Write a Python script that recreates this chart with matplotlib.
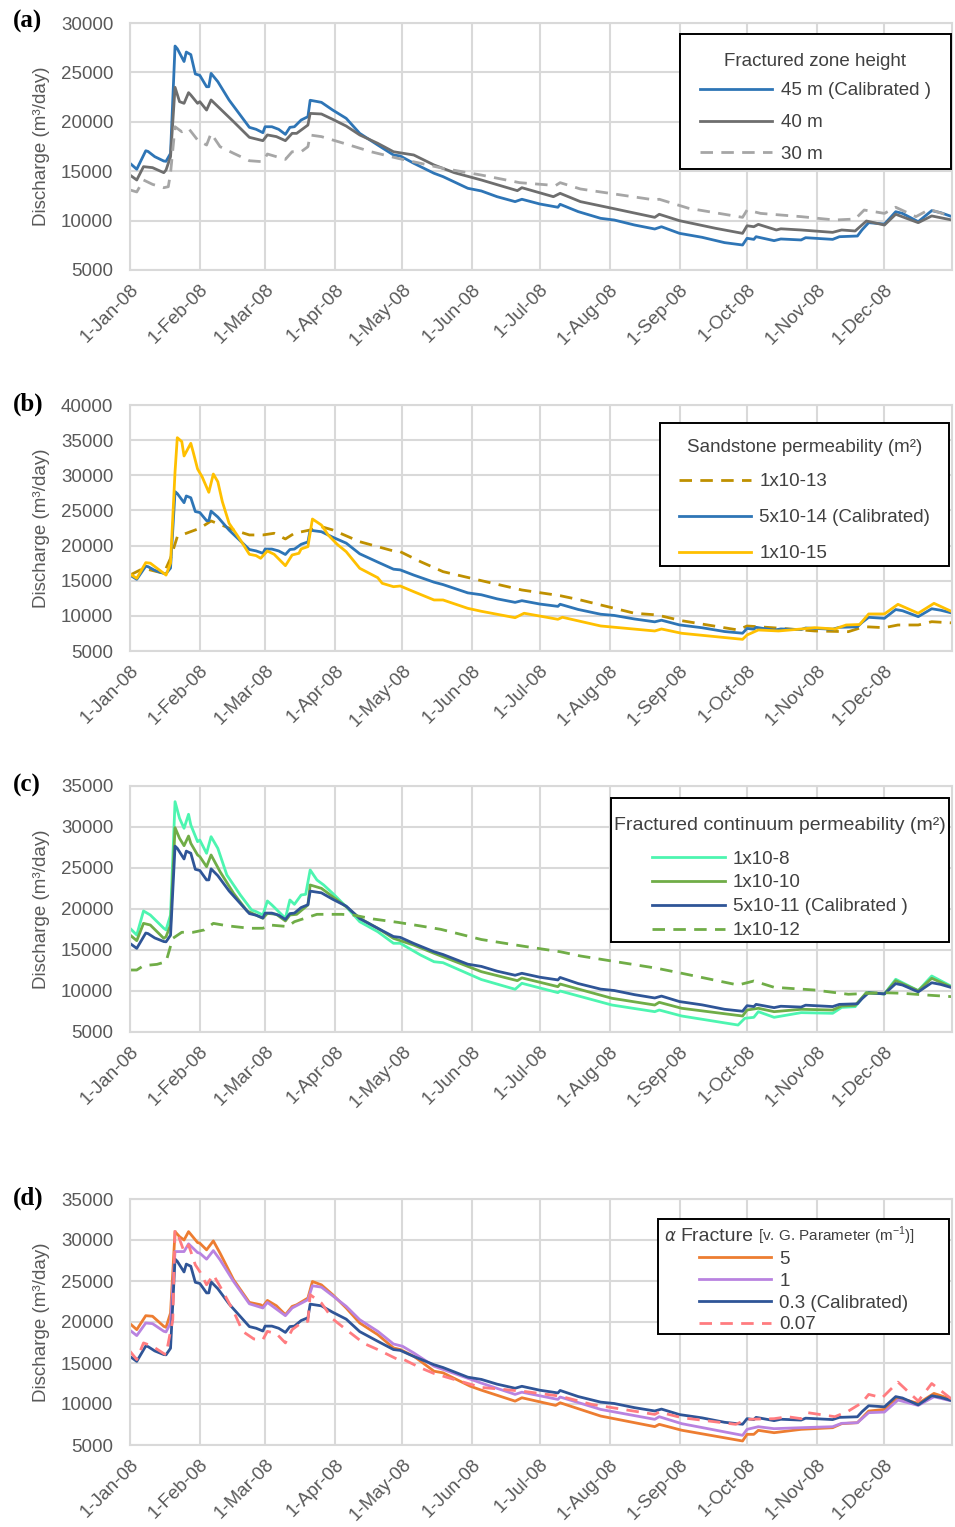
import numpy as np
import matplotlib
matplotlib.use("Agg")
import matplotlib.pyplot as plt
import matplotlib.dates as mdates
from matplotlib.ticker import FuncFormatter, MultipleLocator
from matplotlib.offsetbox import DrawingArea, HPacker, TextArea, VPacker

plt.rcParams["font.family"] = ["Liberation Sans", "DejaVu Sans"]

START = np.datetime64("2008-01-01")
END = np.datetime64("2008-12-31")

# calibrated model run (same in every panel): day of 2008, discharge m3/day
CAL_DAY = [0, 3, 7, 8, 11, 15, 16, 18, 20, 21, 24, 25, 27, 29, 31, 34, 35, 36, 39, 44,
           53, 56, 59, 60, 63, 66, 69, 71, 73, 76, 79, 80, 85, 90, 96, 102, 110, 117, 120,
           126, 135, 139, 150, 156, 163, 171, 174, 182, 190, 191, 199, 209, 215, 224, 233,
           236, 244, 254, 264, 272, 274, 277, 278, 286, 289, 298, 300, 312, 315, 323, 325,
           328, 335, 340, 343, 350, 356, 360, 365]
CAL_Q = [15800, 15200, 17070, 17000, 16470, 16030, 16000, 16800, 27670, 27400, 26100, 27060,
         26800, 24840, 24700, 23550, 23550, 24900, 24060, 22200, 19440, 19240, 18900, 19500,
         19500, 19240, 18730, 19440, 19500, 20180, 20520, 22180, 21970, 21190, 20350, 18830,
         17650, 16640, 16540, 15800, 14790, 14450, 13270, 13000, 12420, 11920, 12160, 11680,
         11350, 11650, 10910, 10230, 10060, 9555, 9150, 9380, 8710, 8310, 7770, 7530, 8210,
         8100, 8370, 7970, 8140, 8040, 8270, 8100, 8370, 8440, 9050, 9790, 9650, 10900, 10730,
         9890, 11010, 10800, 10400]

# (a) fractured zone height
H40_DAY = [0, 3, 6, 10, 15, 16, 18, 20, 22, 24, 26, 27, 30, 31, 34, 36, 46, 53, 59, 61, 65,
           69, 72, 74, 79, 80, 85, 90, 96, 102, 110, 117, 126, 135, 144, 156, 172, 174, 188,
           191, 200, 214, 233, 235, 244, 260, 272, 274, 277, 279, 287, 289, 298, 312, 316,
           322, 327, 335, 340, 350, 356, 365]
H40_Q = [14610, 14110, 15460, 15360, 14850, 15120, 16470, 23490, 22040, 21870, 22950, 22710,
         21870, 22040, 21190, 22210, 20010, 18430, 18090, 18670, 18500, 18090, 18830, 18830,
         19670, 20850, 20790, 20250, 19570, 18670, 17820, 16970, 16640, 15630, 14850, 14110,
         13030, 13330, 12420, 12760, 11920, 11250, 10330, 10640, 9990, 9220, 8710, 9480, 9380,
         9620, 9050, 9170, 9050, 8810, 9050, 8950, 9960, 9550, 10640, 9790, 10470, 10060]
H30_DAY = [0, 3, 6, 10, 15, 17, 18, 20, 23, 26, 30, 34, 36, 40, 46, 53, 59, 61, 69, 72, 76,
           79, 80, 85, 96, 107, 119, 129, 139, 156, 173, 189, 191, 200, 233, 235, 248, 272,
           274, 280, 298, 313, 322, 326, 335, 340, 349, 355, 365]
H30_Q = [13100, 12900, 14110, 13670, 13330, 13430, 14790, 19500, 18990, 19330, 18160, 17650,
         18830, 17480, 16810, 16060, 15960, 16740, 16200, 16970, 16970, 17480, 18660, 18500,
         17750, 16970, 16300, 15800, 15290, 14610, 13840, 13550, 13840, 13200, 12090, 12160,
         11250, 10330, 11070, 10730, 10400, 10060, 10160, 11070, 10730, 11350, 10400, 11140,
         10400]

# (b) sandstone permeability
S13_DAY = [0, 6, 15, 18, 21, 25, 31, 36, 42, 46, 53, 59, 64, 69, 73, 80, 85, 90, 102, 117,
           120, 129, 139, 156, 174, 191, 200, 224, 234, 245, 270, 274, 289, 304, 319, 326,
           335, 341, 350, 356, 365]
S13_Q = [15800, 16770, 16050, 18190, 21260, 21750, 22460, 23500, 22750, 22220, 21510, 21510,
         21750, 20940, 21750, 22220, 22690, 22220, 20550, 19230, 19130, 17710, 16290, 15010,
         13680, 12870, 12260, 10370, 10130, 9310, 7990, 8560, 8230, 7850, 7750, 8460, 8320,
         8700, 8700, 9170, 9000]
S15_DAY = [0, 3, 7, 9, 15, 16, 18, 20, 21, 23, 24, 27, 28, 30, 32, 35, 37, 39, 41, 44, 49,
           53, 56, 58, 61, 64, 69, 72, 75, 76, 79, 81, 85, 88, 92, 96, 102, 110, 112, 117,
           120, 126, 135, 139, 150, 156, 171, 175, 190, 192, 209, 233, 236, 245, 272, 274,
           279, 288, 298, 304, 313, 318, 324, 328, 335, 341, 350, 357, 365]
S15_Q = [15960, 15340, 17570, 17500, 16050, 15800, 17500, 30520, 35350, 34790, 32750, 34550,
         33380, 30900, 29800, 27580, 30180, 29080, 26250, 23170, 20800, 18760, 18570, 18190,
         19230, 18760, 17140, 18660, 18900, 19520, 19850, 23780, 22920, 21500, 20180, 19130,
         16770, 15430, 14630, 14150, 14250, 13440, 12260, 12260, 11070, 10650, 9740, 10370,
         9510, 9800, 8560, 7850, 8130, 7520, 6660, 7280, 7990, 7850, 8130, 8320, 8130, 8700,
         8770, 10270, 10270, 11640, 10370, 11780, 10600]

# (c) fractured continuum permeability
F8_DAY = [0, 3, 6, 9, 15, 16, 18, 20, 22, 24, 26, 27, 30, 31, 34, 36, 39, 43, 49, 54, 56, 59,
          61, 63, 69, 71, 73, 76, 78, 80, 83, 86, 90, 96, 102, 110, 117, 120, 129, 135, 139,
          156, 171, 174, 190, 191, 214, 233, 235, 245, 270, 273, 277, 279, 286, 298, 312,
          316, 322, 327, 335, 340, 350, 356, 365]
F8_Q = [17650, 16830, 19760, 19270, 17650, 17450, 19270, 33090, 31060, 29840, 31550, 30250,
        28210, 28410, 26790, 28820, 27400, 24150, 21710, 19880, 19680, 19270, 20980, 20490,
        18870, 21100, 20570, 21710, 21790, 24760, 23540, 22930, 21910, 20280, 18450, 17230,
        15820, 15820, 14390, 13570, 13450, 11400, 10210, 10940, 9800, 10000, 8290, 7480,
        7680, 6950, 5850, 6670, 6790, 7480, 6790, 7360, 7280, 8000, 8090, 9800, 9640, 11430,
        10040, 11830, 10530]
F10_DAY = [0, 3, 6, 9, 15, 16, 18, 20, 22, 24, 26, 27, 30, 31, 34, 36, 40, 46, 52, 59, 61,
           65, 69, 71, 74, 79, 80, 85, 90, 96, 102, 110, 117, 126, 135, 156, 172, 174, 190,
           191, 214, 233, 235, 245, 272, 274, 279, 286, 298, 312, 316, 322, 327, 335, 340,
           350, 356, 365]
F10_Q = [16830, 16140, 18250, 18050, 16420, 16630, 18050, 29920, 28620, 27720, 28900, 28010,
         26590, 26390, 25160, 26590, 24550, 21910, 19760, 18870, 19470, 19350, 18540, 19270,
         19350, 20490, 22930, 22520, 21500, 20280, 18870, 17650, 16420, 15600, 14600, 12360,
         11260, 11600, 10530, 10850, 9110, 8290, 8620, 7890, 6950, 7680, 7890, 7480, 7770,
         7680, 8170, 8250, 9800, 9640, 11260, 10040, 11550, 10450]
F12_DAY = [0, 3, 6, 12, 16, 19, 23, 28, 33, 37, 43, 53, 59, 62, 70, 73, 83, 94, 99, 108, 119,
           129, 138, 156, 174, 191, 200, 234, 245, 270, 277, 286, 304, 319, 334, 343, 353, 365]
F12_Q = [12560, 12560, 13090, 13250, 13570, 16420, 17160, 17160, 17450, 18250, 17960, 17650,
         17650, 18050, 17860, 18450, 19350, 19350, 19270, 18780, 18370, 17930, 17520, 16280,
         15490, 14790, 14270, 12770, 12160, 10730, 11220, 10450, 10120, 9600, 9800, 9720, 9520,
         9310]

# (d) van Genuchten alpha of the fracture continuum
A5_DAY = [0, 3, 7, 10, 15, 16, 18, 20, 22, 24, 26, 30, 31, 34, 37, 40, 46, 53, 58, 59, 61,
          65, 69, 72, 74, 79, 81, 85, 90, 96, 102, 110, 117, 120, 126, 135, 139, 151, 156,
          171, 174, 189, 191, 209, 233, 235, 245, 272, 274, 277, 279, 286, 298, 312, 316,
          323, 328, 335, 341, 350, 357, 365]
A5_Q = [19800, 19070, 20770, 20700, 19470, 19350, 21100, 31020, 30410, 30000, 31020, 29690,
        29610, 28800, 29890, 28390, 25150, 22390, 22100, 21900, 22630, 21980, 20890, 21900,
        22100, 22920, 24940, 24530, 23330, 21710, 19880, 18460, 16840, 16640, 15830, 14000,
        13800, 12180, 11690, 10350, 10760, 9830, 10150, 8530, 7240, 7520, 6800, 5490, 6300,
        6300, 6790, 6500, 6910, 7110, 7600, 7720, 9140, 9340, 10760, 10070, 11290, 10560]
A1_DAY = [0, 3, 7, 10, 15, 16, 18, 20, 24, 26, 30, 31, 34, 37, 40, 46, 53, 59, 61, 69, 72,
          79, 81, 85, 90, 96, 102, 110, 117, 121, 126, 135, 156, 171, 174, 190, 191, 209,
          233, 235, 245, 272, 274, 279, 286, 298, 312, 316, 323, 328, 335, 341, 350, 357, 365]
A1_Q = [18990, 18340, 19880, 19800, 18870, 18790, 19880, 28590, 28590, 29530, 28470, 28390,
        27660, 28710, 27580, 24940, 22220, 21710, 22390, 20770, 21710, 22720, 24420, 24250,
        23200, 21910, 20280, 18870, 17320, 17040, 16230, 14610, 12550, 11170, 11440, 10560,
        10850, 9340, 8130, 8450, 7600, 6180, 6910, 7230, 6990, 7110, 7230, 7640, 7720, 8940,
        9020, 10480, 9830, 10880, 10360]
A007_DAY = [0, 3, 6, 10, 15, 16, 19, 20, 22, 24, 26, 29, 31, 34, 37, 40, 46, 50, 55, 59, 61,
            65, 69, 72, 76, 79, 80, 85, 90, 96, 104, 110, 119, 121, 129, 135, 156, 174, 191,
            205, 233, 235, 245, 269, 274, 286, 292, 298, 301, 313, 319, 325, 328, 334, 341,
            350, 356, 365]
A007_Q = [16430, 15420, 17450, 17040, 16150, 16020, 20290, 31230, 30100, 28590, 29410, 26970,
          26150, 24540, 25760, 24340, 21300, 18860, 17930, 17850, 18860, 18580, 17450, 19070,
          19880, 20090, 23330, 22310, 20370, 19070, 17370, 16640, 15420, 15500, 14410, 13720,
          12020, 11570, 10960, 9950, 8730, 9020, 8330, 7520, 8130, 8210, 8450, 8210, 8940,
          8450, 9140, 10150, 11170, 10760, 12670, 10360, 12500, 10560]

GRID = "#d9d9d9"
TICK = "#595959"
LEGTXT = "#404040"
LW = 2.0
DASH = (0, (4.5, 3))
PT = 72 / 100  # points per pixel at dpi 100


def dates(days):
    return START + np.array(days, dtype="timedelta64[D]")


def month_label(v, _pos):
    d = mdates.num2date(v)
    return f"{d.day}-{d:%b-%y}"


def setup(ax, ymax, tag, tag_y):
    ax.set_xlim(START, END)
    ax.set_ylim(5000, ymax)
    ax.yaxis.set_major_locator(MultipleLocator(5000))
    ax.xaxis.set_major_locator(mdates.MonthLocator())
    ax.xaxis.set_major_formatter(FuncFormatter(month_label))
    ax.grid(True, color=GRID, lw=1.5)
    ax.set_axisbelow(True)
    for s in ax.spines.values():
        s.set_color(GRID)
        s.set_linewidth(1.5)
    ax.tick_params(length=0, labelsize=13.5, colors=TICK)
    ax.tick_params(axis="y", pad=12)
    ax.tick_params(axis="x", pad=8)
    for lbl in ax.get_xticklabels():
        lbl.set_rotation(45)
        lbl.set_ha("right")
        lbl.set_rotation_mode("anchor")
    ax.set_ylabel("Discharge (m³/day)", fontsize=13.5, color=TICK, labelpad=8)
    fig.text(13 / 955, 1 - tag_y / 1527, tag, fontfamily="Liberation Serif",
             fontweight="bold", fontsize=18, va="center", ha="left")


def legend(ax, title, top, right, spacing, pad, top_gap, side, title_gap,
           title_size=13.5, head=None):
    """Boxed legend; pad/top_gap/side/title_gap in pixels."""
    leg = ax.legend(title=title, loc="upper right", bbox_to_anchor=(right, top),
                    borderaxespad=0, fancybox=False, edgecolor="black", framealpha=1,
                    fontsize=13.5, title_fontsize=title_size, handlelength=3.85,
                    handletextpad=0.45, labelspacing=spacing)
    leg.get_frame().set_linewidth(1.4)
    leg.get_title().set_color(LEGTXT)
    for t in leg.get_texts():
        t.set_color(LEGTXT)
    # uneven padding around the title block and the entries
    box = leg._legend_box
    box.pad = pad * PT
    box.sep = title_gap * PT
    kids = box.get_children()
    title_box = head if head is not None else kids[0]
    kids[0] = VPacker(children=[DrawingArea(0, top_gap * PT), title_box],
                      pad=0, sep=0, align="center")
    kids[1] = HPacker(children=[DrawingArea(side * PT, 0), kids[1],
                                DrawingArea(side * PT, 0)],
                      pad=0, sep=0, align="top")
    box.set_figure(ax.figure)
    return leg


fig = plt.figure(figsize=(9.55, 15.27), dpi=100)
L, W, H = 130 / 955, 822 / 955, 246 / 1527
ax_a = fig.add_axes([L, 1 - 270 / 1527, W, 247 / 1527])
ax_b = fig.add_axes([L, 1 - 651 / 1527, W, H])
ax_c = fig.add_axes([L, 1 - 1032 / 1527, W, H])
ax_d = fig.add_axes([L, 1 - 1445 / 1527, W, H])
RIGHT = (949 - 130) / 822

# (a) fractured zone height
ax_a.plot(dates(CAL_DAY), CAL_Q, color="#2e75b6", lw=LW, label="45 m (Calibrated )")
ax_a.plot(dates(H40_DAY), H40_Q, color="#6e6e6e", lw=LW, label="40 m")
ax_a.plot(dates(H30_DAY), H30_Q, color="#a6a6a6", lw=LW, ls=DASH, label="30 m")
setup(ax_a, 30000, "(a)", 21)
legend(ax_a, "Fractured zone height", (270 - 34) / 247, (951 - 130) / 822, 0.78,
       pad=5.75, top_gap=13, side=14.5, title_gap=12.5)

# (b) sandstone permeability
ax_b.plot(dates(S13_DAY), S13_Q, color="#bf9000", lw=LW, ls=DASH, label="1x10-13")
ax_b.plot(dates(CAL_DAY), CAL_Q, color="#2e75b6", lw=LW, label="5x10-14 (Calibrated)")
ax_b.plot(dates(S15_DAY), S15_Q, color="#ffc000", lw=LW, label="1x10-15")
setup(ax_b, 40000, "(b)", 404)
legend(ax_b, "Sandstone permeability (m²)", (651 - 423) / 246, RIGHT, 1.0,
       pad=3.75, top_gap=12, side=15.25, title_gap=17.5)

# (c) fractured continuum permeability
ax_c.plot(dates(F8_DAY), F8_Q, color="#4df5b0", lw=LW, label="1x10-8")
ax_c.plot(dates(F10_DAY), F10_Q, color="#70ad47", lw=LW, label="1x10-10")
ax_c.plot(dates(CAL_DAY), CAL_Q, color="#2f5597", lw=LW, label="5x10-11 (Calibrated )")
ax_c.plot(dates(F12_DAY), F12_Q, color="#70ad47", lw=LW, ls=DASH, label="1x10-12")
setup(ax_c, 35000, "(c)", 785)
legend(ax_c, "Fractured continuum permeability (m²)", (1032 - 798) / 246, RIGHT, 0.36,
       pad=3, top_gap=16, side=0, title_gap=16.5, title_size=14)

# (d) fracture alpha, title set in mixed sizes
ax_d.plot(dates(A5_DAY), A5_Q, color="#ed7d31", lw=LW, label="5")
ax_d.plot(dates(A1_DAY), A1_Q, color="#b983e0", lw=LW, label="1")
ax_d.plot(dates(CAL_DAY), CAL_Q, color="#2f5597", lw=LW, label="0.3 (Calibrated)")
ax_d.plot(dates(A007_DAY), A007_Q, color="#ff7c80", lw=LW, ls=DASH, label="0.07")
setup(ax_d, 35000, "(d)", 1198)
head_d = HPacker(children=[
    TextArea(r"$\alpha$", textprops=dict(color=LEGTXT, fontsize=12)),
    TextArea("Fracture", textprops=dict(color=LEGTXT, fontsize=14)),
    TextArea(r"[v. G. Parameter (m$^{\mathregular{-1}}$)]",
             textprops=dict(color=LEGTXT, fontsize=11)),
    DrawingArea(25 * PT, 0),
], pad=0, sep=3, align="baseline")
legend(ax_d, "", (1445 - 1219) / 246, RIGHT, 0.25,
       pad=1, top_gap=4.5, side=39.5, title_gap=4, head=head_d)

fig.savefig("out.png", dpi=100)
